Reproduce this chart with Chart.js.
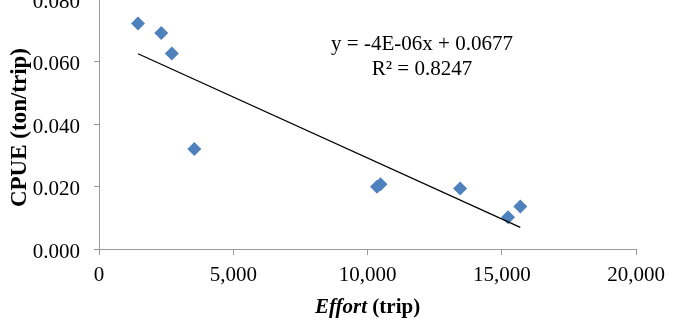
<!DOCTYPE html>
<html>
<head>
<meta charset="utf-8">
<script src="https://cdn.jsdelivr.net/npm/chart.js@4"></script>
<style>
  html, body { margin: 0; padding: 0; background: #fff; overflow: hidden; }
  #wrap { position: absolute; left: 0; top: -30px; width: 673px; height: 352px; }
</style>
</head>
<body>
<div id="wrap"><canvas id="c"></canvas></div>
<script>
// Data
const effort = [1453, 2317, 2711, 3549, 10352, 10481, 13446, 15232, 15687];
const cpue   = [0.0722, 0.0691, 0.0626, 0.0320, 0.0199, 0.0207, 0.0194, 0.0102, 0.0136];
const xTicks = [0, 5000, 10000, 15000, 20000];
const yTicks = [0.000, 0.020, 0.040, 0.060, 0.080];
const eqLine1 = 'y = -4E-06x + 0.0677';
const eqLine2 = 'R\u00B2 = 0.8247';
const yTitle = 'CPUE (ton/trip)';
const xTitleItalic = 'Effort';
const xTitleRest = ' (trip)';

// Linear least-squares trend line (as in the spreadsheet trendline)
const n = effort.length;
const mx = effort.reduce((a, b) => a + b, 0) / n;
const my = cpue.reduce((a, b) => a + b, 0) / n;
let sxy = 0, sxx = 0;
for (let i = 0; i < n; i++) { sxy += (effort[i] - mx) * (cpue[i] - my); sxx += (effort[i] - mx) ** 2; }
const slope = sxy / sxx, intercept = my - slope * mx;
const xMin = Math.min(...effort), xMax = Math.max(...effort);
const trend = [{ x: xMin, y: intercept + slope * xMin }, { x: xMax, y: intercept + slope * xMax }];

const points = effort.map((x, i) => ({ x, y: cpue[i] }));

const SERIF = '"Liberation Serif", "Times New Roman", serif';

const textPlugin = {
  id: 'texts',
  afterDraw(chart) {
    const ctx = chart.ctx;
    const area = chart.chartArea;
    ctx.save();
    ctx.fillStyle = '#000';
    // equation
    ctx.font = '21px ' + SERIF;
    ctx.textAlign = 'center';
    ctx.textBaseline = 'alphabetic';
    ctx.fillText(eqLine1, 422, 80);
    ctx.fillText(eqLine2, 422, 105);
    // x title, mixed styles
    ctx.font = 'italic bold 21px ' + SERIF;
    const w1 = ctx.measureText(xTitleItalic).width;
    ctx.font = 'bold 21px ' + SERIF;
    const w2 = ctx.measureText(xTitleRest).width;
    const cx = (area.left + area.right) / 2;
    let sx = cx - (w1 + w2) / 2;
    ctx.textAlign = 'left';
    ctx.font = 'italic bold 21px ' + SERIF;
    ctx.fillText(xTitleItalic, sx, 343);
    ctx.font = 'bold 21px ' + SERIF;
    ctx.fillText(xTitleRest, sx + w1, 343);
    // y title
    ctx.translate(26, 157.5);
    ctx.rotate(-Math.PI / 2);
    ctx.textAlign = 'center';
    ctx.font = 'bold 23px ' + SERIF;
    ctx.fillText(yTitle, 0, 0);
    ctx.restore();
  }
};

new Chart(document.getElementById('c'), {
  type: 'scatter',
  data: {
    datasets: [
      {
        data: points,
        pointStyle: 'rectRot',
        pointRadius: 7,
        pointHoverRadius: 7,
        backgroundColor: '#4F81BD',
        borderColor: '#4F81BD',
        borderWidth: 0,
        order: 1
      },
      {
        type: 'line',
        data: trend,
        borderColor: '#000',
        borderWidth: 1.3,
        pointRadius: 0,
        fill: false,
        order: 0
      }
    ]
  },
  options: {
    responsive: true,
    maintainAspectRatio: false,
    animation: false,
    events: [],
    layout: { padding: { top: 29, right: 33, left: 0, bottom: 0 } },
    plugins: { legend: { display: false }, tooltip: { enabled: false } },
    scales: {
      x: {
        type: 'linear',
        min: 0, max: 20000,
        afterBuildTicks: (s) => { s.ticks = xTicks.map(v => ({ value: v })); },
        afterFit: (s) => { s.height = 73; },
        grid: { drawOnChartArea: false, drawTicks: true, tickLength: 6, color: '#999' },
        border: { display: true, color: '#999', width: 1 },
        ticks: {
          color: '#000',
          padding: 8,
          font: { family: SERIF, size: 21 },
          maxRotation: 0,
          callback: (v) => v.toLocaleString('en-US')
        }
      },
      y: {
        type: 'linear',
        min: 0, max: 0.08,
        afterBuildTicks: (s) => { s.ticks = yTicks.map(v => ({ value: v })); },
        afterFit: (s) => { s.width = 99; },
        grid: { drawOnChartArea: false, drawTicks: true, tickLength: 5, color: '#999' },
        border: { display: true, color: '#999', width: 1 },
        ticks: {
          color: '#000',
          padding: 14,
          labelOffset: 3,
          font: { family: SERIF, size: 21 },
          callback: (v) => Number(v).toFixed(3)
        }
      }
    }
  },
  plugins: [textPlugin]
});
</script>
</body>
</html>
